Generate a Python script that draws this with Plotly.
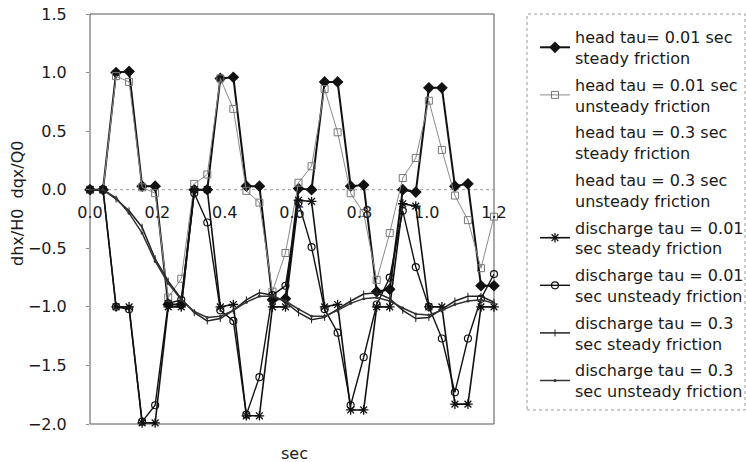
import plotly.graph_objects as go

# time axis (sec)
t = [0.0, 0.0387, 0.0774, 0.1161, 0.1548, 0.1935, 0.2323, 0.2710, 0.3097, 0.3484,
     0.3871, 0.4258, 0.4645, 0.5032, 0.5419, 0.5806, 0.6194, 0.6581, 0.6968, 0.7355,
     0.7742, 0.8129, 0.8516, 0.8903, 0.9290, 0.9677, 1.0065, 1.0452, 1.0839, 1.1226,
     1.1613, 1.2]

head_001_steady = [0, 0, 1.00, 1.01, 0.03, 0.03, -0.98, -0.98, 0.0, 0.0,
                   0.95, 0.96, 0.03, 0.03, -0.94, -0.93, 0.01, 0.0, 0.92, 0.92,
                   0.03, 0.04, -0.87, -0.85, 0.0, -0.02, 0.87, 0.87, 0.03, 0.05,
                   -0.82, -0.82]
head_001_unsteady = [0, 0, 0.97, 0.92, 0.02, -0.03, -0.92, -0.76, 0.05, 0.13,
                     0.95, 0.69, -0.01, -0.11, -0.87, -0.54, 0.06, 0.20, 0.86, 0.49,
                     -0.03, -0.20, -0.77, -0.37, 0.10, 0.27, 0.76, 0.34, -0.05, -0.26,
                     -0.67, -0.23]
head_03_steady = []      # not visible in the reference
head_03_unsteady = []    # not visible in the reference
dis_001_steady = [0, 0, -1.0, -1.0, -1.99, -1.99, -1.0, -1.0, 0.0, 0.0,
                  -1.0, -0.98, -1.93, -1.93, -1.0, -1.0, -0.09, -0.10, -1.0, -0.98,
                  -1.88, -1.88, -1.0, -1.0, -0.12, -0.14, -1.0, -1.0, -1.83, -1.83,
                  -1.0, -1.0]
dis_001_unsteady = [0, 0, -1.0, -1.02, -1.98, -1.84, -0.97, -0.94, -0.03, -0.28,
                    -1.03, -1.12, -1.92, -1.60, -0.90, -0.82, -0.11, -0.49, -1.02, -1.22,
                    -1.84, -1.43, -0.98, -0.75, -0.18, -0.66, -1.0, -1.27, -1.73, -1.27,
                    -0.93, -0.72]
dis_03_steady = [0, 0, -0.08, -0.18, -0.32, -0.59, -0.78, -0.93, -1.05, -1.12,
                 -1.10, -1.03, -0.94, -0.88, -0.90, -0.96, -1.05, -1.11, -1.09, -1.02,
                 -0.95, -0.89, -0.88, -0.93, -1.03, -1.10, -1.09, -1.02, -0.95, -0.91,
                 -0.91, -0.96]
dis_03_unsteady = [0, 0, -0.07, -0.20, -0.37, -0.61, -0.80, -0.94, -1.04, -1.09,
                   -1.08, -1.03, -0.96, -0.91, -0.91, -0.95, -1.02, -1.08, -1.08, -1.03,
                   -0.97, -0.93, -0.92, -0.95, -1.01, -1.06, -1.07, -1.03, -0.98, -0.95,
                   -0.94, -0.97]

names = [
    "head tau= 0.01 sec<br>steady friction",
    "head tau = 0.01 sec<br>unsteady friction",
    "head tau = 0.3 sec<br>steady friction",
    "head tau = 0.3 sec<br>unsteady friction",
    "discharge tau = 0.01<br>sec steady friction",
    "discharge tau = 0.01<br>sec unsteady friction",
    "discharge tau = 0.3<br>sec steady friction",
    "discharge tau = 0.3<br>sec unsteady friction",
]
x_ticks = [0.0, 0.2, 0.4, 0.6, 0.8, 1.0, 1.2]
y_ticks = [1.5, 1.0, 0.5, 0.0, -0.5, -1.0, -1.5, -2.0]

FONT = "DejaVu Sans"
INK = "#1a1a1a"

fig = go.Figure()

def add(y, name, lc, lw, sym, ms, mcol, mline, mlcol, group):
    x = t if len(y) else [None]
    yy = y if len(y) else [None]
    fig.add_trace(go.Scatter(
        x=x, y=yy, name=name, mode="lines+markers", legendgroup=group,
        line=dict(color=lc, width=lw),
        marker=dict(symbol=sym, size=ms, color=mcol,
                    line=dict(color=mlcol, width=mline)),
        showlegend=True, cliponaxis=False))

add(head_001_steady, names[0], "#111", 2.0, "diamond", 9, "#111", 0, "#111", "g1")
add(head_001_unsteady, names[1], "#8a8a8a", 1.0, "square-open", 7, "#777", 1, "#777", "g2")
add(head_03_steady, names[2], "rgba(255,255,255,0)", 1, "circle", 1, "rgba(255,255,255,0)", 0, "rgba(255,255,255,0)", "g3")
add(head_03_unsteady, names[3], "rgba(255,255,255,0)", 1, "circle", 1, "rgba(255,255,255,0)", 0, "rgba(255,255,255,0)", "g4")
add(dis_001_steady, names[4], "#111", 1.6, "asterisk-open", 8, "#111", 1.3, "#111", "g5")
add(dis_001_unsteady, names[5], "#111", 1.4, "circle-open", 7, "#111", 1.2, "#111", "g6")
add(dis_03_steady, names[6], "#222", 1.5, "line-ns-open", 5, "#222", 1, "#222", "g7")
add(dis_03_unsteady, names[7], "#333", 1.5, "circle", 3, "#333", 0, "#333", "g8")

L, R, T, B = 90, 746 - 494, 14, 462 - 424
pw = 746 - L - R
ph = 462 - T - B

fig.update_layout(
    width=746, height=462,
    margin=dict(l=L, r=R, t=T, b=B, autoexpand=False),
    paper_bgcolor="white", plot_bgcolor="white",
    font=dict(family=FONT, size=16, color=INK),
    showlegend=True,
    legend=dict(x=(535 - L) / pw, xanchor="left", y=1 - (20 - T) / ph, yanchor="top",
                traceorder="grouped", tracegroupgap=3, itemwidth=30, maxheight=440,
                bgcolor="rgba(0,0,0,0)", borderwidth=0,
                font=dict(family=FONT, size=16, color=INK)),
    xaxis=dict(range=[0, 1.2], tickvals=x_ticks, ticktext=[f"{v:.1f}" for v in x_ticks],
               showgrid=False, zeroline=False, showline=False, ticks="",
               anchor="free", position=2.0 / 3.5, ticklabelstandoff=11,
               tickfont=dict(family=FONT, size=16, color=INK)),
    yaxis=dict(range=[-2.0, 1.5], tickvals=y_ticks,
               ticktext=[f"{v:.1f}".replace("-", "\u2212") for v in y_ticks],
               showgrid=False, zeroline=False, showline=False,
               ticks="outside", ticklen=3, tickcolor="#888", ticklabelstandoff=16,
               tickfont=dict(family=FONT, size=16, color=INK)),
)

# plot frame
fig.add_shape(type="rect", xref="paper", yref="paper", x0=0, y0=0, x1=1, y1=1,
              line=dict(color="#555", width=1), layer="below")
# zero line (x axis crossing)
fig.add_shape(type="line", xref="paper", yref="y", x0=0, x1=1, y0=0, y1=0,
              line=dict(color="#999", width=1, dash="dot"), layer="below")
# legend border
fig.add_shape(type="rect", xref="paper", yref="paper",
              x0=(527 - L) / pw, x1=(745 - L) / pw, y0=1 - (410 - T) / ph, y1=1,
              line=dict(color="#999", width=1, dash="dot"), layer="below")

fig.add_annotation(text="sec", xref="paper", yref="paper", x=(294 - L) / pw,
                   y=-(453 - 424) / ph, showarrow=False, yanchor="middle",
                   font=dict(family=FONT, size=16, color=INK))
fig.add_annotation(text="dhx/H0  dqx/Q0", xref="paper", yref="paper",
                   x=-(90 - 17) / pw, y=1 - (204 - T) / ph, textangle=-90,
                   showarrow=False, xanchor="center", yanchor="middle",
                   font=dict(family=FONT, size=16, color=INK))

fig.write_html("out.html", config={"displayModeBar": False},
               post_script="document.body.style.margin='0';document.body.style.padding='0';")
